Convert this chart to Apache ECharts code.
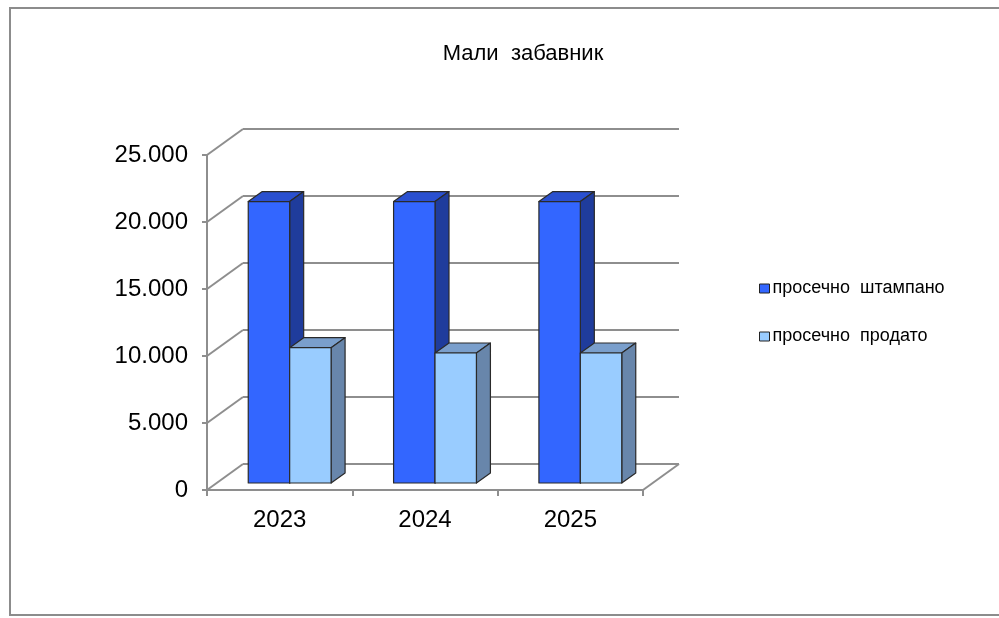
<!DOCTYPE html>
<html>
<head>
<meta charset="utf-8">
<title>Мали забавник</title>
<script src="https://cdn.jsdelivr.net/npm/echarts@6/dist/echarts.min.js"></script>
<style>
  html, body { margin: 0; background: #fff; }
  #chart { width: 999px; height: 618px; }
</style>
</head>
<body>
<div id="chart"></div>
<script>
// data
const years = ['2023', '2024', '2025'];
const printed = [21000, 21000, 21000];
const sold = [10100, 9700, 9700];
const seriesNames = ['просечно штампано', 'просечно продато'];
const yTicks = [0, 5000, 10000, 15000, 20000, 25000];

// 3d look
const WALL_DX = 36, WALL_DY = -26;   // depth of the walls
const SHIFT_X = 10, SHIFT_Y = -7;    // bars stand a bit behind the front plane
const BAR_DX = 14, BAR_DY = -10;     // depth of a bar
const FONT = '"Liberation Sans", Arial, sans-serif';
const GRID_COLOR = '#8e8e8e';

const faces = [
  { front: '#3366ff', top: '#2a50d0', side: '#1f3c9c' },
  { front: '#99ccff', top: '#7a9fcc', side: '#6886ab' }
];

const fmt = v => String(v).replace(/\B(?=(\d{3})+(?!\d))/g, '.');

// one 3d box per category
function barRenderer(idx) {
  const c = faces[idx];
  return function (params, api) {
    const i = api.value(0);
    const base = api.coord([i, 0]);
    const top = api.coord([i, api.value(1)]);
    const w = api.size([1, 0])[0] * 0.285;
    const x0 = base[0] + SHIFT_X + (idx - 1) * w;
    const x1 = x0 + w;
    const yb = base[1] + SHIFT_Y;
    const yt = top[1] + SHIFT_Y;
    const stroke = { stroke: '#2a2a2a', lineWidth: 1.2, lineJoin: 'round' };
    return {
      type: 'group',
      children: [
        { type: 'polygon', shape: { points: [[x0, yt], [x1, yt], [x1 + BAR_DX, yt + BAR_DY], [x0 + BAR_DX, yt + BAR_DY]] },
          style: Object.assign({ fill: c.top }, stroke) },
        { type: 'polygon', shape: { points: [[x1, yt], [x1 + BAR_DX, yt + BAR_DY], [x1 + BAR_DX, yb + BAR_DY], [x1, yb]] },
          style: Object.assign({ fill: c.side }, stroke) },
        { type: 'rect', shape: { x: x0, y: yt, width: w, height: yb - yt },
          style: Object.assign({ fill: c.front }, stroke) }
      ]
    };
  };
}

// left wall diagonals and the right edge of the floor
function wallRenderer(params, api) {
  const v = api.value(1);
  const p = api.coord([0, v]);
  const cs = params.coordSys;
  const lines = [
    { type: 'line', shape: { x1: cs.x, y1: p[1], x2: cs.x + WALL_DX, y2: p[1] + WALL_DY },
      style: { stroke: GRID_COLOR, lineWidth: 2 } }
  ];
  if (v === 0) {
    const xr = cs.x + cs.width;
    lines.push({ type: 'line', shape: { x1: xr, y1: p[1], x2: xr + WALL_DX, y2: p[1] + WALL_DY },
      style: { stroke: GRID_COLOR, lineWidth: 2 } });
  }
  return { type: 'group', children: lines };
}

const chart = echarts.init(document.getElementById('chart'));

const option = {
  backgroundColor: '#fff',
  animation: false,
  title: {
    text: 'Мали  забавник',
    left: 518,
    top: 38,
    textAlign: 'center',
    textStyle: { fontFamily: FONT, fontSize: 22, fontWeight: 'normal', color: '#000' }
  },
  legend: {
    orient: 'vertical',
    left: 754,
    top: 273,
    icon: 'rect',
    itemWidth: 10,
    itemHeight: 9,
    itemGap: 27,
    data: seriesNames,
    itemStyle: { borderColor: '#222', borderWidth: 1 },
    textStyle: { fontFamily: FONT, fontSize: 18, color: '#000', lineHeight: 21, padding: [0, 0, 0, -2] },
    formatter: name => name.replace(' ', '  ')
  },
  graphic: [
    { type: 'rect', shape: { x: 10, y: 8, width: 1000, height: 607 },
      style: { fill: 'none', stroke: '#8c8c8c', lineWidth: 2 }, z: -10 }
  ],
  grid: [
    { left: 207, right: 356, top: 155, bottom: 128 },               // front plane
    { left: 207 + WALL_DX, right: 356 - WALL_DX, top: 155 + WALL_DY, bottom: 128 - WALL_DY } // back wall
  ],
  xAxis: [
    {
      type: 'category', gridIndex: 0, data: years,
      axisLine: { lineStyle: { color: GRID_COLOR, width: 2 } },
      axisTick: { show: true, length: 6, alignWithLabel: false, lineStyle: { color: GRID_COLOR, width: 2 } },
      axisLabel: { fontFamily: FONT, fontSize: 24, color: '#000', margin: 18 }
    },
    { type: 'category', gridIndex: 1, data: years, show: false }
  ],
  yAxis: [
    {
      type: 'value', gridIndex: 0, min: 0, max: 25000, interval: 5000,
      axisLine: { show: true, lineStyle: { color: GRID_COLOR, width: 2 } },
      axisTick: { show: true, length: 5, lineStyle: { color: GRID_COLOR, width: 2 } },
      splitLine: { show: false },
      axisLabel: { fontFamily: FONT, fontSize: 24, color: '#000', margin: 19, formatter: fmt }
    },
    {
      type: 'value', gridIndex: 1, min: 0, max: 25000, interval: 5000,
      axisLine: { show: false }, axisTick: { show: false }, axisLabel: { show: false },
      splitLine: { show: true, lineStyle: { color: GRID_COLOR, width: 2 } }
    }
  ],
  series: [
    {
      name: 'walls', type: 'custom', xAxisIndex: 0, yAxisIndex: 0, silent: true, z: 1,
      renderItem: wallRenderer,
      data: yTicks.map(v => [0, v])
    },
    {
      name: seriesNames[0], type: 'custom', xAxisIndex: 0, yAxisIndex: 0, z: 3,
      itemStyle: { color: faces[0].front, borderColor: '#222', borderWidth: 1 },
      renderItem: barRenderer(0),
      data: printed.map((v, i) => [i, v])
    },
    {
      name: seriesNames[1], type: 'custom', xAxisIndex: 0, yAxisIndex: 0, z: 3,
      itemStyle: { color: faces[1].front, borderColor: '#222', borderWidth: 1 },
      renderItem: barRenderer(1),
      data: sold.map((v, i) => [i, v])
    }
  ]
};

chart.setOption(option);
</script>
</body>
</html>
